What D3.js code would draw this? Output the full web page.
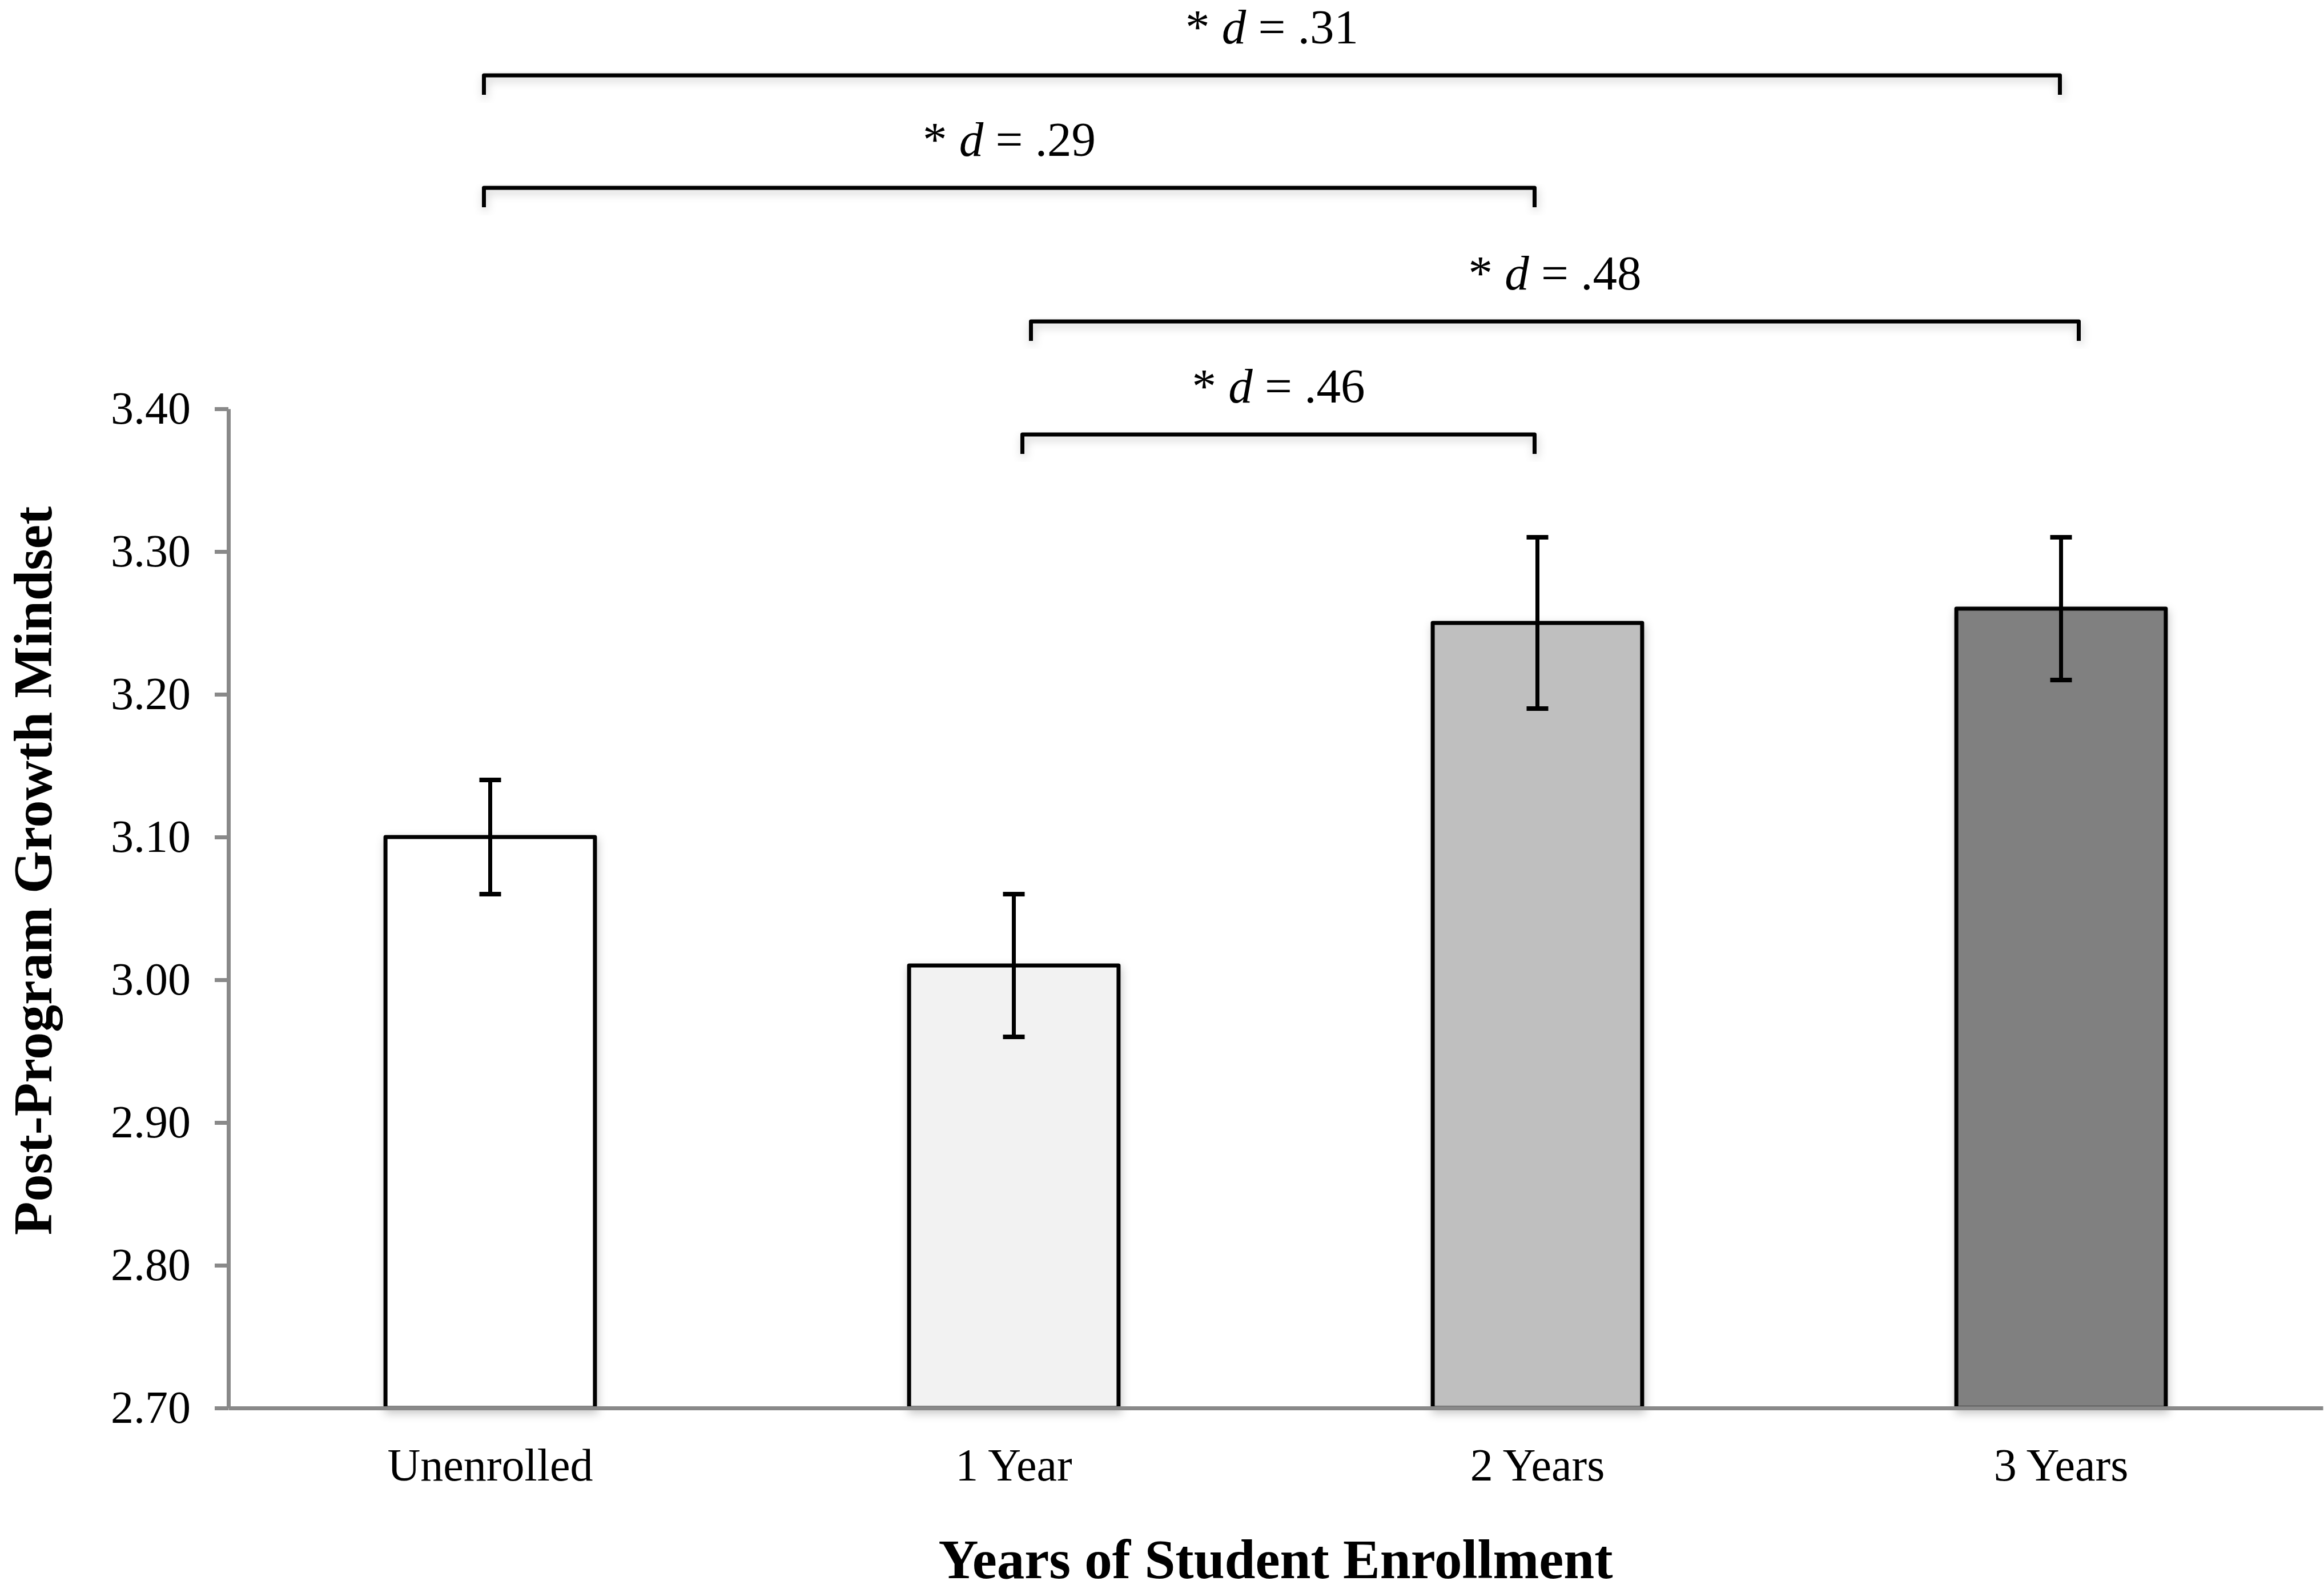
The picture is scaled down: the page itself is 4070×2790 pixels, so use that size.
<!DOCTYPE html>
<html>
<head>
<meta charset="utf-8">
<script src="https://cdnjs.cloudflare.com/ajax/libs/d3/7.8.5/d3.min.js"></script>
<style>
  body { margin: 0; background: #ffffff; }
  text { font-family: "Liberation Serif", "Times New Roman", serif; fill: #000000; }
</style>
</head>
<body>
<div id="chart"></div>
<script>
//Chart data
var categories = ["Unenrolled", "1 Year", "2 Years", "3 Years"];
var means = [3.10, 3.01, 3.25, 3.26];
var errHigh = [3.14, 3.06, 3.31, 3.31];
var errLow = [3.06, 2.96, 3.19, 3.21];
var barColors = ["#ffffff", "#f2f2f2", "#bfbfbf", "#808080"];
var yTicks = [2.70, 2.80, 2.90, 3.00, 3.10, 3.20, 3.30, 3.40];

//Significance brackets (category names at each end + effect size)
var bracketFrom = ["Unenrolled", "Unenrolled", "1 Year", "1 Year"];
var bracketTo = ["3 Years", "2 Years", "3 Years", "2 Years"];
var bracketD = [".31", ".29", ".48", ".46"];

var xTitle = "Years of Student Enrollment";
var yTitle = "Post-Program Growth Mindset";

//SVG size
var svgWidth = 4070;
var svgHeight = 2790;

//Plot area
var plot = { left: 400, right: 4068, top: 716, bottom: 2466 };

//Bracket layout (row heights and small end nudges, in px)
var bracketY = [132, 329, 563, 761];
var bracketNudge = [[-11, -2], [-11, -5], [30, 31], [15, -5]];
var bracketDrop = 34;

var svg = d3.select("#chart")
  .append("svg")
  .attr("width", svgWidth)
  .attr("height", svgHeight);

svg.append("rect")
  .attr("width", svgWidth)
  .attr("height", svgHeight)
  .attr("fill", "#ffffff");

//Soft Excel-like shadow
var defs = svg.append("defs");
var shadow = defs.append("filter")
  .attr("id", "shadow")
  .attr("x", "-20%").attr("y", "-20%")
  .attr("width", "140%").attr("height", "160%");
shadow.append("feDropShadow")
  .attr("dx", 2)
  .attr("dy", 6)
  .attr("stdDeviation", 8)
  .attr("flood-color", "#000000")
  .attr("flood-opacity", 0.22);

//Scales
var xScale = d3.scaleBand()
  .domain(categories)
  .range([plot.left, plot.right])
  .paddingInner(0.6)
  .paddingOuter(0.3);

var yScale = d3.scaleLinear()
  .domain([2.70, 3.40])
  .range([plot.bottom, plot.top]);

//Bars
svg.append("g")
  .selectAll("rect")
  .data(categories)
  .enter()
  .append("rect")
  .attr("x", d => xScale(d))
  .attr("y", (d, i) => yScale(means[i]))
  .attr("width", xScale.bandwidth())
  .attr("height", (d, i) => yScale(2.70) - yScale(means[i]))
  .attr("fill", (d, i) => barColors[i])
  .attr("stroke", "#000000")
  .attr("stroke-width", 7)
  .attr("stroke-linejoin", "round")
  .attr("filter", "url(#shadow)");

//Error bars
var errGroup = svg.append("g");
var capHalf = 19;
categories.forEach(function(c, i) {
  var cx = xScale(c) + xScale.bandwidth() / 2;
  errGroup.append("line")
    .attr("x1", cx).attr("x2", cx)
    .attr("y1", yScale(errHigh[i]))
    .attr("y2", yScale(errLow[i]))
    .attr("stroke", "#000000")
    .attr("stroke-width", 7);
  [errHigh[i], errLow[i]].forEach(function(v) {
    errGroup.append("line")
      .attr("x1", cx - capHalf).attr("x2", cx + capHalf)
      .attr("y1", yScale(v)).attr("y2", yScale(v))
      .attr("stroke", "#000000")
      .attr("stroke-width", 8);
  });
});

//Y axis
var yAxis = d3.axisLeft(yScale)
  .tickValues(yTicks)
  .tickFormat(d3.format(".2f"))
  .tickSizeInner(24)
  .tickSizeOuter(0)
  .tickPadding(42);

var yAxisG = svg.append("g")
  .attr("transform", `translate(${plot.left}, 0)`)
  .call(yAxis);

yAxisG.select(".domain")
  .attr("stroke", "#898989")
  .attr("stroke-width", 7);
yAxisG.selectAll(".tick line")
  .attr("stroke", "#898989")
  .attr("stroke-width", 7);
yAxisG.selectAll(".tick text")
  .attr("font-family", "Liberation Serif, serif")
  .attr("font-size", 80)
  .attr("fill", "#000000");

//X axis
var xAxis = d3.axisBottom(xScale)
  .tickSize(0)
  .tickPadding(70);

var xAxisG = svg.append("g")
  .attr("transform", `translate(0, ${plot.bottom})`)
  .call(xAxis);

xAxisG.select(".domain")
  .attr("stroke", "#898989")
  .attr("stroke-width", 7);
xAxisG.selectAll(".tick text")
  .attr("font-family", "Liberation Serif, serif")
  .attr("font-size", 80)
  .attr("fill", "#000000");

//Axis titles
svg.append("text")
  .attr("x", (plot.left + plot.right) / 2)
  .attr("y", 2764)
  .attr("text-anchor", "middle")
  .attr("font-size", 97)
  .attr("font-weight", "bold")
  .text(xTitle);

svg.append("text")
  .attr("transform", "rotate(-90)")
  .attr("x", -1525)
  .attr("y", 90)
  .attr("text-anchor", "middle")
  .attr("font-size", 96)
  .attr("font-weight", "bold")
  .text(yTitle);

//Significance brackets
var brGroup = svg.append("g");
bracketD.forEach(function(d, i) {
  var x1 = xScale(bracketFrom[i]) + xScale.bandwidth() / 2 + bracketNudge[i][0];
  var x2 = xScale(bracketTo[i]) + xScale.bandwidth() / 2 + bracketNudge[i][1];
  var y = bracketY[i];

  brGroup.append("path")
    .attr("d", `M${x1},${y + bracketDrop} L${x1},${y} L${x2},${y} L${x2},${y + bracketDrop}`)
    .attr("fill", "none")
    .attr("stroke", "#000000")
    .attr("stroke-width", 7)
    .attr("stroke-linejoin", "round")
    .attr("filter", "url(#shadow)");

  var label = brGroup.append("text")
    .attr("x", (x1 + x2) / 2)
    .attr("y", y - 56)
    .attr("text-anchor", "middle")
    .attr("font-size", 85);
  label.append("tspan").text("* ");
  label.append("tspan").attr("font-style", "italic").text("d");
  label.append("tspan").text(" = " + d);
});
</script>
</body>
</html>
